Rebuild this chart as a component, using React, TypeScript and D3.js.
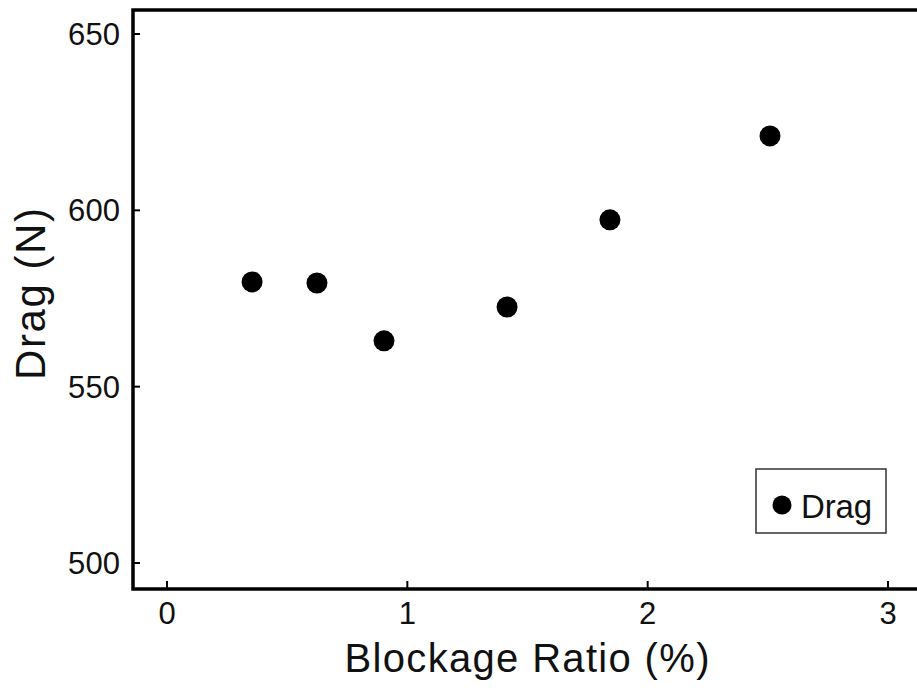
import * as d3 from 'd3'

const ratio = [0.354, 0.624, 0.903, 1.415, 1.843, 2.509]
const drag = [579.7, 579.4, 563.0, 572.6, 597.3, 621.1]
const xTicks = [0, 1, 2, 3]
const yTicks = [500, 550, 600, 650]

const W = 917
const H = 690
const left = 133
const top = 10
const bottom = 589
const font = '"Liberation Sans", Arial, sans-serif'

export default function App() {
  const x = d3.scaleLinear().domain([0, 3]).range([167, 888])
  const y = d3.scaleLinear().domain([500, 650]).range([563, 34])

  return (
    <div style={{ position: 'absolute', left: 0, top: 0 }}>
      <svg width={W} height={H} style={{ display: 'block', background: '#fff' }} fontFamily={font}>
        {/* frame: left, top, bottom (right edge runs off the image) */}
        <path d={`M${W + 5},${top}H${left}V${bottom}H${W + 5}`} fill="none" stroke="#000" strokeWidth={3.5} />

        {xTicks.map(t => (
          <g key={t}>
            <line x1={x(t)} x2={x(t)} y1={bottom} y2={bottom - 8} stroke="#000" strokeWidth={2} />
            <text x={x(t)} y={624} textAnchor="middle" fontSize={31} fill="#111">{t}</text>
          </g>
        ))}
        {yTicks.map(t => (
          <g key={t}>
            <line x1={left} x2={left + 7} y1={y(t)} y2={y(t)} stroke="#000" strokeWidth={2} />
            <text x={120} y={y(t) + 11} textAnchor="end" fontSize={31} textLength={52} fill="#111">{t}</text>
          </g>
        ))}

        <text x={527} y={672} textAnchor="middle" fontSize={40} textLength={365} fill="#111">Blockage Ratio (%)</text>
        <text transform="translate(45,294) rotate(-90)" textAnchor="middle" fontSize={42} textLength={172} fill="#111">Drag (N)</text>

        {ratio.map((r, i) => (
          <circle key={i} cx={x(r)} cy={y(drag[i])} r={10.5} fill="#000" />
        ))}

        <rect x={756} y={469} width={130} height={64} fill="#fff" stroke="#333" strokeWidth={1.5} />
        <circle cx={782} cy={505} r={9.5} fill="#000" />
        <text x={801} y={518} fontSize={33} textLength={71} fill="#111">Drag</text>
      </svg>
    </div>
  )
}
